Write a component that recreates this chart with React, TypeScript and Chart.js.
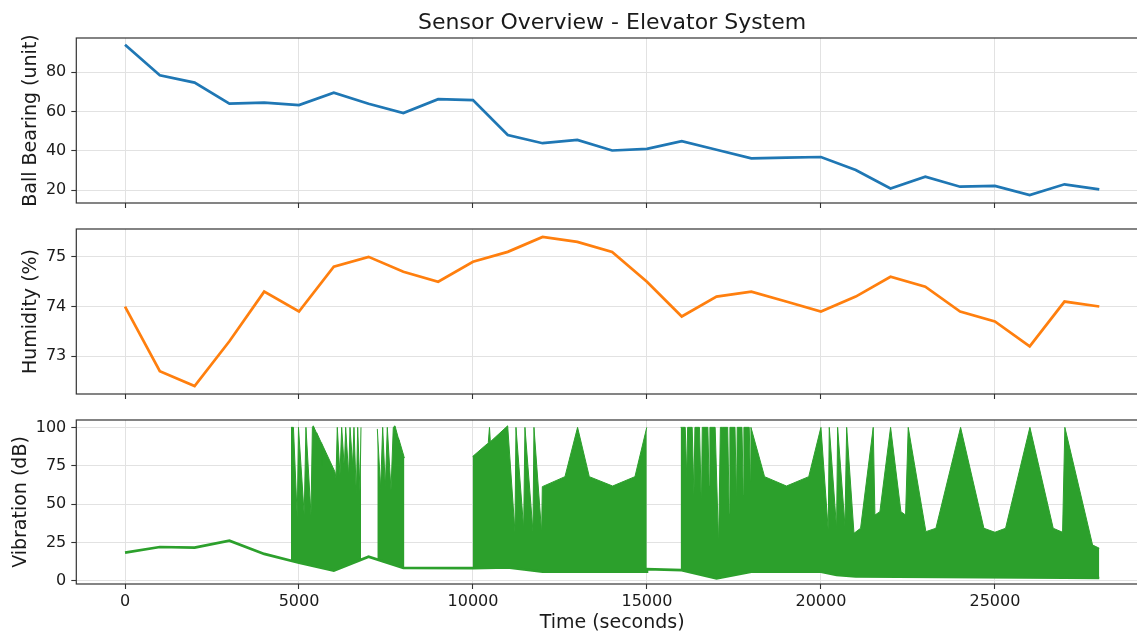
import React, { useEffect, useRef } from "react";
import { Chart, registerables } from "chart.js";

Chart.register(...registerables);

// ---------- text ----------
const CHART_TITLE = "Sensor Overview - Elevator System";
const X_LABEL = "Time (seconds)";
const BALL_LABEL = "Ball Bearing (unit)";
const HUM_LABEL = "Humidity (%)";
const VIB_LABEL = "Vibration (dB)";

// ---------- data ----------
const timeSeconds = [
  0, 1000, 2000, 3000, 4000, 5000, 6000, 7000, 8000, 9000, 10000, 11000, 12000, 13000, 14000,
  15000, 16000, 17000, 18000, 19000, 20000, 21000, 22000, 23000, 24000, 25000, 26000, 27000, 28000,
];
const ballBearing = [
  93.9, 78.3, 74.6, 63.9, 64.4, 63.2, 69.5, 63.9, 59.1, 66.2, 65.7, 48.0, 43.8, 45.5, 40.1,
  40.9, 44.8, 40.5, 36.1, 36.5, 36.8, 30.2, 20.8, 26.8, 21.7, 22.1, 17.4, 22.9, 20.3,
];
const humidity = [
  74.0, 72.7, 72.4, 73.3, 74.3, 73.9, 74.8, 75.0, 74.7, 74.5, 74.9, 75.1, 75.4, 75.3, 75.1,
  74.5, 73.8, 74.2, 74.3, 74.1, 73.9, 74.2, 74.6, 74.4, 73.9, 73.7, 73.2, 74.1, 74.0,
];

// vibration: low baseline of the signal
const vibBaseTime = [0, 1000, 2000, 3000, 4000, 5000, 6000, 7000, 8000, 10000, 11000, 12000, 14990, 15000, 16000, 17000, 18000, 20000, 20450, 21000, 27000, 28000];
const vibBaseValue = [18.4, 22.1, 21.7, 26.2, 17.6, 11.8, 6.8, 15.8, 8.5, 8.4, 8.8, 6.0, 6.0, 7.7, 7.0, 1.7, 6.0, 6.0, 3.9, 2.9, 2.2, 1.9];

// vibration: upper envelope of the bursts
const burstATime = [4770, 4840, 4950, 4985, 5150, 5200, 5345, 5385, 5412, 5500, 5508, 5520, 5640, 5651, 5665, 6034, 6063, 6101, 6178, 6227, 6303, 6342, 6428, 6466, 6543, 6580, 6648, 6687, 6753, 6782];
const burstAValue = [100, 100, 41, 100, 43, 100, 43, 100, 101, 96.5, 86, 96, 90, 75, 89, 71, 67, 100, 69, 100, 73, 100, 68, 100, 75, 100, 56, 100, 58, 100];
const burstBTime = [7251, 7347, 7405, 7481, 7538, 7644, 7710, 7759, 7854, 7862, 7875, 8017, 8030];
const burstBValue = [99, 60, 100, 61, 100, 59, 100, 101, 93, 86, 92, 81, 80];
const burstCTime = [9990, 10421, 10440, 10475, 10500, 10517, 10997, 11207, 11236, 11457, 11494, 11724, 11753, 11974, 11993, 12644, 13006, 13343, 14014, 14655, 14995];
const burstCValue = [81, 89.5, 90, 100, 90.5, 91, 101, 32, 100, 34, 100, 32, 100, 31, 61.4, 67.9, 100, 67.9, 61.8, 67.9, 100];
const burstDTime = [
  15968, 16025, 16100, 16145, 16169, 16300, 16350, 16379, 16510, 16565, 16590, 16750, 16790, 16810,
  16960, 17060, 17110, 17175, 17320, 17365, 17385, 17530, 17575, 17595, 17730, 17770, 17787, 17940, 17975, 17989,
  18380, 19010, 19650, 20000, 20210, 20240, 20450, 20480, 20690, 20740, 20950, 21140, 21503, 21552, 21695,
  22002, 22299, 22433, 22509, 23017, 23305, 24014, 24684, 25000, 25307, 26006, 26676, 26945, 27011, 27807, 28000,
];
const burstDValue = [
  100, 100, 100, 67, 100, 100, 56, 100, 100, 46, 100, 100, 62, 100,
  100, 23, 100, 100, 100, 44, 100, 100, 50, 100, 100, 56, 100, 100, 65, 100,
  67.9, 61.8, 67.9, 100, 33, 100, 34, 100, 36, 100, 31, 34.3, 100, 42.9, 45.1,
  100, 45.1, 42.9, 100, 32.1, 34.3, 100, 34.3, 31.7, 34.3, 100, 34.3, 31.7, 100, 23.4, 21.3,
];

// ---------- ticks ----------
const xTicks = [0, 5000, 10000, 15000, 20000, 25000];
const ballTicks = [20, 40, 60, 80];
const humidityTicks = [73, 74, 75];
const vibTicks = [0, 25, 50, 75, 100];

// ---------- style ----------
const FONT = "'DejaVu Sans', 'Noto Sans', sans-serif";
const TEXT = "#1a1a1a";
const GRID = "#e2e2e2";
const SPINE = "#333333";
const BLUE = "#1f77b4";
const ORANGE = "#ff7f0e";
const GREEN = "#2ca02c";
const CANVAS_W = 1160;
const CANVAS_H = 634;

type Pt = { x: number; y: number | null };
const toPts = (xs: number[], ys: (number | null)[]): Pt[] => xs.map((x, i) => ({ x, y: ys[i] }));

function joinBursts(groups: [number[], number[]][]): Pt[] {
  const out: Pt[] = [];
  groups.forEach(([t, v], k) => {
    if (k > 0) {
      const prev = groups[k - 1][0];
      out.push({ x: (prev[prev.length - 1] + t[0]) / 2, y: null });
    }
    out.push(...toPts(t, v));
  });
  return out;
}

const framePlugin = {
  id: "frame",
  afterDraw(chart: any) {
    const { ctx, chartArea } = chart;
    ctx.save();
    ctx.strokeStyle = SPINE;
    ctx.lineWidth = 1.2;
    ctx.strokeRect(chartArea.left, chartArea.top, chartArea.right - chartArea.left, chartArea.bottom - chartArea.top);
    ctx.restore();
  },
};

function makeTitlePlugin(text: string) {
  return {
    id: "figTitle",
    afterDraw(chart: any) {
      const { ctx, chartArea } = chart;
      ctx.save();
      ctx.font = `22px ${FONT}`;
      ctx.fillStyle = TEXT;
      ctx.textAlign = "center";
      ctx.textBaseline = "middle";
      ctx.fillText(text, (chartArea.left + chartArea.right) / 2, 23);
      ctx.restore();
    },
  };
}

type PanelOpts = {
  datasets: any[];
  yMin: number;
  yMax: number;
  yTicks: number[];
  yLabel: string;
  yTitlePad: number;
  top: number;
  bottom: number;
  showX: boolean;
  extraPlugins?: any[];
};

function panelConfig(o: PanelOpts): any {
  const xh = o.showX ? 50 : 8;
  return {
    type: "line",
    data: { datasets: o.datasets },
    plugins: [framePlugin, ...(o.extraPlugins || [])],
    options: {
      responsive: false,
      animation: false,
      events: [],
      devicePixelRatio: 1,
      layout: { padding: { top: o.top, bottom: CANVAS_H - o.bottom - xh, left: 0, right: CANVAS_W - 1148 } },
      elements: { point: { radius: 0 }, line: { tension: 0 } },
      plugins: { legend: { display: false }, tooltip: { enabled: false }, title: { display: false } },
      scales: {
        x: {
          type: "linear",
          min: -1400,
          max: 29400,
          afterBuildTicks: (s: any) => {
            s.ticks = xTicks.map((v) => ({ value: v }));
          },
          afterFit: (s: any) => {
            s.height = xh;
          },
          border: { display: false },
          grid: { color: GRID, lineWidth: 1, drawTicks: true, tickLength: 5, tickColor: SPINE, tickWidth: 1.1 },
          ticks: {
            display: o.showX,
            autoSkip: false,
            maxRotation: 0,
            padding: 3,
            color: TEXT,
            font: { family: FONT, size: 16 },
            callback: (v: any) => String(v),
          },
          title: {
            display: o.showX,
            text: X_LABEL,
            color: TEXT,
            font: { family: FONT, size: 19, lineHeight: 1 },
            padding: { top: 0, bottom: 1 },
          },
        },
        y: {
          type: "linear",
          min: o.yMin,
          max: o.yMax,
          afterBuildTicks: (s: any) => {
            s.ticks = o.yTicks.map((v) => ({ value: v }));
          },
          afterFit: (s: any) => {
            s.width = 76.3;
          },
          border: { display: false },
          grid: { color: GRID, lineWidth: 1, drawTicks: true, tickLength: 5, tickColor: SPINE, tickWidth: 1.1 },
          ticks: {
            autoSkip: false,
            padding: 5,
            color: TEXT,
            font: { family: FONT, size: 16 },
            callback: (v: any) => String(v),
          },
          title: {
            display: true,
            text: o.yLabel,
            color: TEXT,
            font: { family: FONT, size: 19, lineHeight: 1.2 },
            padding: { top: o.yTitlePad, bottom: 0 },
          },
        },
      },
    },
  };
}

export default function App() {
  const c1 = useRef<HTMLCanvasElement | null>(null);
  const c2 = useRef<HTMLCanvasElement | null>(null);
  const c3 = useRef<HTMLCanvasElement | null>(null);

  useEffect(() => {
    Chart.defaults.font.family = FONT;
    const ballPts = toPts(timeSeconds, ballBearing);
    const humPts = toPts(timeSeconds, humidity);
    const basePts = toPts(vibBaseTime, vibBaseValue);
    const highPts = joinBursts([
      [burstATime, burstAValue],
      [burstBTime, burstBValue],
      [burstCTime, burstCValue],
      [burstDTime, burstDValue],
    ]);

    const charts: Chart[] = [];
    charts.push(
      new Chart(
        c1.current as HTMLCanvasElement,
        panelConfig({
          datasets: [{ data: ballPts, borderColor: BLUE, borderWidth: 2.7, pointRadius: 0, fill: false }],
          yMin: 13.4,
          yMax: 97.3,
          yTicks: ballTicks,
          yLabel: BALL_LABEL,
          yTitlePad: 20,
          top: 38,
          bottom: 203,
          showX: false,
          extraPlugins: [makeTitlePlugin(CHART_TITLE)],
        })
      )
    );
    charts.push(
      new Chart(
        c2.current as HTMLCanvasElement,
        panelConfig({
          datasets: [{ data: humPts, borderColor: ORANGE, borderWidth: 2.7, pointRadius: 0, fill: false }],
          yMin: 72.24,
          yMax: 75.56,
          yTicks: humidityTicks,
          yLabel: HUM_LABEL,
          yTitlePad: 20,
          top: 229,
          bottom: 394,
          showX: false,
        })
      )
    );
    charts.push(
      new Chart(
        c3.current as HTMLCanvasElement,
        panelConfig({
          datasets: [
            { data: basePts, borderColor: GREEN, borderWidth: 2.7, pointRadius: 0, fill: false },
            {
              data: highPts,
              borderColor: GREEN,
              backgroundColor: GREEN,
              borderWidth: 1,
              borderJoinStyle: "bevel",
              pointRadius: 0,
              spanGaps: false,
              fill: "-1",
            },
          ],
          yMin: -2,
          yMax: 104.8,
          yTicks: vibTicks,
          yLabel: VIB_LABEL,
          yTitlePad: 9.5,
          top: 420,
          bottom: 584,
          showX: true,
        })
      )
    );
    return () => charts.forEach((c) => c.destroy());
  }, []);

  const canvasStyle: React.CSSProperties = { position: "absolute", left: 0, top: 0, display: "block" };
  return (
    <div
      style={{
        position: "fixed",
        left: 0,
        top: 0,
        width: 1137,
        height: 634,
        overflow: "hidden",
        background: "#ffffff",
      }}
    >
      <canvas ref={c1} width={CANVAS_W} height={CANVAS_H} style={canvasStyle} />
      <canvas ref={c2} width={CANVAS_W} height={CANVAS_H} style={canvasStyle} />
      <canvas ref={c3} width={CANVAS_W} height={CANVAS_H} style={canvasStyle} />
    </div>
  );
}
